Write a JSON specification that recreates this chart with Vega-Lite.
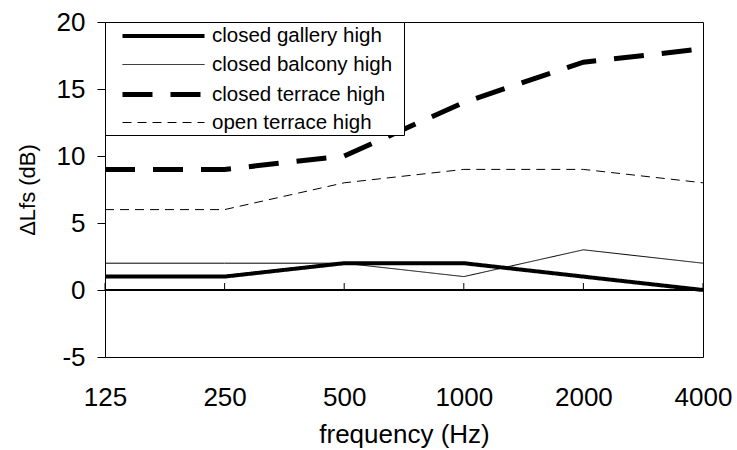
{
  "$schema": "https://vega.github.io/schema/vega-lite/v6.json",
  "width": 598,
  "height": 335,
  "autosize": "none",
  "padding": {"left": 105, "top": 22, "right": 34, "bottom": 93},
  "background": "white",
  "config": {
    "view": {"stroke": "black", "strokeWidth": 1},
    "font": "Liberation Sans"
  },
  "data": {
    "values": [
      {"freq": 125, "series": "closed gallery high", "dL": 1},
      {"freq": 250, "series": "closed gallery high", "dL": 1},
      {"freq": 500, "series": "closed gallery high", "dL": 2},
      {"freq": 1000, "series": "closed gallery high", "dL": 2},
      {"freq": 2000, "series": "closed gallery high", "dL": 1},
      {"freq": 4000, "series": "closed gallery high", "dL": 0},
      {"freq": 125, "series": "closed balcony high", "dL": 2},
      {"freq": 250, "series": "closed balcony high", "dL": 2},
      {"freq": 500, "series": "closed balcony high", "dL": 2},
      {"freq": 1000, "series": "closed balcony high", "dL": 1},
      {"freq": 2000, "series": "closed balcony high", "dL": 3},
      {"freq": 4000, "series": "closed balcony high", "dL": 2},
      {"freq": 125, "series": "closed terrace high", "dL": 9},
      {"freq": 250, "series": "closed terrace high", "dL": 9},
      {"freq": 500, "series": "closed terrace high", "dL": 10},
      {"freq": 1000, "series": "closed terrace high", "dL": 14},
      {"freq": 2000, "series": "closed terrace high", "dL": 17},
      {"freq": 4000, "series": "closed terrace high", "dL": 18},
      {"freq": 125, "series": "open terrace high", "dL": 6},
      {"freq": 250, "series": "open terrace high", "dL": 6},
      {"freq": 500, "series": "open terrace high", "dL": 8},
      {"freq": 1000, "series": "open terrace high", "dL": 9},
      {"freq": 2000, "series": "open terrace high", "dL": 9},
      {"freq": 4000, "series": "open terrace high", "dL": 8}
    ]
  },
  "layer": [
    {
      "mark": {"type": "rule", "color": "black", "strokeWidth": 1},
      "encoding": {
        "y": {"datum": 0, "type": "quantitative", "title": "ΔLfs (dB)"}
      }
    },
    {
      "transform": [{"filter": "datum.series === 'closed gallery high'"}],
      "mark": {"type": "rule", "color": "black", "strokeWidth": 1},
      "encoding": {
        "x": {"field": "freq", "type": "ordinal", "title": "frequency (Hz)"},
        "y": {"datum": 0, "type": "quantitative", "title": "ΔLfs (dB)"},
        "y2": {"datum": 0.52}
      }
    },
    {
      "mark": {"type": "line", "color": "black", "strokeCap": "butt"},
      "encoding": {
        "x": {
          "field": "freq",
          "type": "ordinal",
          "scale": {"type": "point", "padding": 0},
          "title": "frequency (Hz)",
          "axis": {
            "domain": false,
            "ticks": false,
            "grid": false,
            "labelAngle": 0,
            "labelAlign": "center",
            "labelFlush": false,
            "labelFontSize": 26,
            "labelColor": "black",
            "labelPadding": 40,
            "titleFontSize": 26,
            "titleFontWeight": "normal",
            "titleColor": "black",
            "titlePadding": 11
          }
        },
        "y": {
          "field": "dL",
          "type": "quantitative",
          "scale": {"domain": [-5, 20], "nice": false, "zero": false},
          "title": "ΔLfs (dB)",
          "axis": {
            "values": [-5, 0, 5, 10, 15, 20],
            "labelExpr": "toString(datum.value)",
            "domain": false,
            "grid": false,
            "tickSize": 8,
            "tickColor": "black",
            "labelFontSize": 26,
            "labelColor": "black",
            "labelPadding": 12,
            "titleFontSize": 22,
            "titleFontWeight": "normal",
            "titleColor": "black",
            "titlePadding": 17
          }
        },
        "strokeWidth": {
          "field": "series",
          "type": "nominal",
          "scale": {
            "type": "ordinal",
            "domain": ["closed gallery high", "closed balcony high", "closed terrace high", "open terrace high"],
            "range": [4, 1, 5, 1]
          },
          "legend": {
            "title": "\u00a0",
            "titleOrient": "right",
            "titlePadding": 10,
            "orient": "none",
            "legendX": 0,
            "legendY": 0,
            "symbolType": "M0.3,0H8.5",
            "symbolSize": 400,
            "symbolStrokeColor": "black",
            "labelFontSize": 20.5,
            "labelColor": "black",
            "labelOffset": 80,
            "labelLimit": 0,
            "padding": 2,
            "rowPadding": 7,
            "strokeColor": "black",
            "fillColor": "white"
          }
        },
        "strokeDash": {
          "field": "series",
          "type": "nominal",
          "scale": {
            "domain": ["closed gallery high", "closed balcony high", "closed terrace high", "open terrace high"],
            "range": [[1, 0], [1, 0], [30, 18], [9, 6]]
          },
          "legend": {
            "title": "\u00a0",
            "titleOrient": "right",
            "titlePadding": 10,
            "orient": "none",
            "legendX": 0,
            "legendY": 0,
            "symbolType": "M0.3,0H8.5",
            "symbolSize": 400,
            "symbolStrokeColor": "black",
            "labelFontSize": 20.5,
            "labelColor": "black",
            "labelOffset": 80,
            "labelLimit": 0,
            "padding": 2,
            "rowPadding": 7,
            "strokeColor": "black",
            "fillColor": "white"
          }
        }
      }
    }
  ]
}
